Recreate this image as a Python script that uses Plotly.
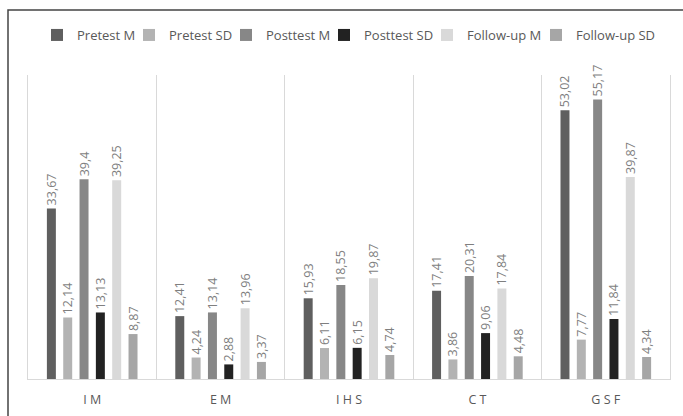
import plotly.graph_objects as go

categories = ["IM", "EM", "IHS", "CT", "GSF"]
tick_labels = ["I M", "E M", "I H S", "C T", "G S F"]
series_names = ["Pretest M", "Pretest SD", "Posttest M", "Posttest SD", "Follow-up M", "Follow-up SD"]
pretest_m = [33.67, 12.41, 15.93, 17.41, 53.02]
pretest_sd = [12.14, 4.24, 6.11, 3.86, 7.77]
posttest_m = [39.4, 13.14, 18.55, 20.31, 55.17]
posttest_sd = [13.13, 2.88, 6.15, 9.06, 11.84]
followup_m = [39.25, 13.96, 19.87, 17.84, 39.87]
followup_sd = [8.87, 3.37, 4.74, 4.48, 4.34]
series_values = [pretest_m, pretest_sd, posttest_m, posttest_sd, followup_m, followup_sd]
colors = ["#5f5f5f", "#b3b3b3", "#878787", "#222222", "#d9d9d9", "#a6a6a6"]


def fmt(v):
    return str(v).replace(".", ",")


W, H = 683, 416
L, R, T, B = 28, 13, 75, 37
pw = W - L - R
ph = H - T - B

# pixel x where each legend entry's text starts (layout only)
legend_text_px = [77, 169, 266, 364, 467, 576]
legend_names = ["legend"] + ["legend%d" % i for i in range(2, 7)]

fig = go.Figure()
for name, vals, col, lg in zip(series_names, series_values, colors, legend_names):
    fig.add_trace(go.Bar(
        x=categories, y=vals, name=name, legend=lg,
        marker=dict(color=col, line=dict(width=0)),
        text=[fmt(v) for v in vals],
        textposition="outside", textangle=-90,
        constraintext="none", cliponaxis=False,
        textfont=dict(family="Open Sans, sans-serif", size=12.5, color="#7f7f7f"),
    ))

legend_layout = {}
for lg, tx in zip(legend_names, legend_text_px):
    legend_layout[lg] = dict(
        orientation="h", x=(tx - 40 - L) / pw, xanchor="left",
        y=(ph + T - 35) / ph, yanchor="middle",
        font=dict(family="Open Sans, sans-serif", size=13, color="#595959"),
        itemwidth=30, itemclick=False, borderwidth=0,
        bgcolor="rgba(0,0,0,0)",
    )

fig.update_layout(
    width=W, height=H,
    margin=dict(l=L, r=R, t=T, b=B, pad=0, autoexpand=False),
    paper_bgcolor="white", plot_bgcolor="white",
    barmode="group", bargap=0.237, bargroupgap=0.45,
    showlegend=True,
    font=dict(family="Open Sans, sans-serif"),
    xaxis=dict(
        tickmode="array", tickvals=categories, ticktext=tick_labels,
        tickson="boundaries", showgrid=True, gridcolor="#d9d9d9", gridwidth=1,
        showline=True, linecolor="#d9d9d9", linewidth=1, mirror=False,
        ticks="", tickfont=dict(family="Open Sans, sans-serif", size=12.5, color="#595959"),
        ticklabelstandoff=9, zeroline=False, automargin=False,
    ),
    yaxis=dict(
        range=[0, 60], showgrid=False, zeroline=False, showticklabels=False,
        showline=True, linecolor="#d9d9d9", linewidth=1, mirror=True, ticks="",
        automargin=False,
    ),
    shapes=[dict(
        type="rect", xref="paper", yref="paper",
        x0=(8 - L) / pw, x1=(W + 100 - L) / pw,
        y0=(T + ph - (H + 100)) / ph, y1=(T + ph - 10) / ph,
        line=dict(color="#444444", width=1.5), fillcolor="rgba(0,0,0,0)",
        layer="above",
    )],
    **legend_layout,
)

fig.write_html("out.html")
